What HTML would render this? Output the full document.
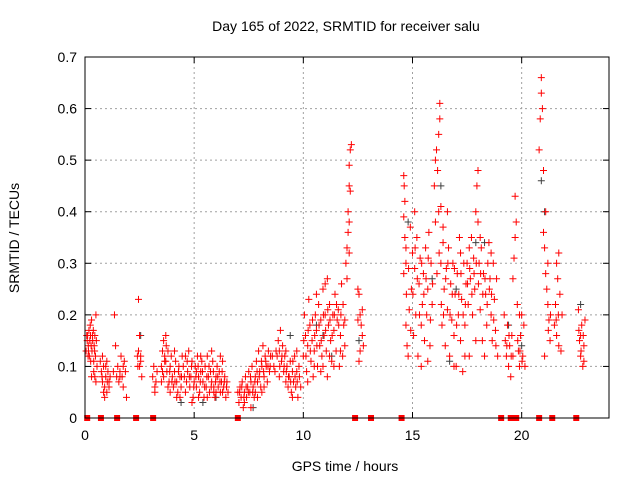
<!DOCTYPE html>
<html><head><meta charset="utf-8"><style>
body{margin:0;background:#fff}
svg{display:block;font-family:"Liberation Sans",sans-serif}
</style></head><body>
<svg id="chart" width="640" height="480">
<text x="346" y="31" font-size="14" text-anchor="middle">Day 165 of 2022, SRMTID for receiver salu</text>
<text x="345" y="471" font-size="14" text-anchor="middle">GPS time / hours</text>
<text transform="translate(19,238) rotate(-90)" font-size="14" text-anchor="middle">SRMTID / TECUs</text>
<g id="grid"></g><g id="gray"></g><g id="red"></g><g id="sq"></g>
<rect x="85" y="57" width="524" height="361" fill="none" stroke="#000" stroke-width="1"/>
</svg>
<script>
const xTicks=[0,5,10,15,20];
const yTicks=[0,0.1,0.2,0.3,0.4,0.5,0.6,0.7];
const yTickLabels=["0","0.1","0.2","0.3","0.4","0.5","0.6","0.7"];
const gapHours=[0.1,0.73,1.47,2.34,3.12,7.0,12.37,13.1,14.5,19.06,19.5,19.6,19.75,20.8,21.4,22.5];
const grayPoints=[[20.9,.46],[21.05,.4],[16.3,.45],[17.9,.34],[22.7,.22],[2.55,.16],[10.6,.18],[9.4,.16],[15.9,.27],[5.4,.03],[7.7,.02],[12.55,.15],[20.0,.14],[18.3,.34],[14.8,.38],[11.3,.12],[19.4,.18],[17.0,.25],[6.0,.04],[4.4,.03],[16.7,.11],[10.9,.16]];
const redPoints=[
[.05,.13],[.1,.15],[.12,.16],[.15,.14],[.18,.17],[.2,.12],[.22,.15],[.25,.16],[.28,.14],[.3,.19],[.32,.13],[.35,.15],[.38,.17],[.4,.11],[.42,.14],[.45,.16],[.48,.12],[.5,.2],[.52,.15],[.55,.1],[.4,.09],[.45,.08],[.3,.08],[.5,.07],
[.7,.11],[.75,.09],[.8,.07],[.85,.1],[.9,.06],[.95,.08],[1.0,.05],[1.05,.09],[1.1,.07],[.8,.12],[.9,.04],[1.0,.11],[1.1,.06],[1.15,.08],[.85,.05],
[1.3,.09],[1.35,.2],[1.4,.14],[1.45,.08],[1.5,.1],[1.55,.07],[1.6,.09],[1.65,.12],[1.7,.08],[1.75,.06],[1.8,.11],[1.85,.09],[1.9,.04],
[2.4,.12],[2.45,.23],[2.5,.1],[2.5,.16],[2.55,.11],[2.6,.08],[2.45,.13],[2.55,.12],
[3.1,.08],[3.15,.1],[3.2,.06],[3.25,.07],[3.3,.09],[3.2,.05],
[3.5,.1],[3.55,.13],[3.6,.15],[3.65,.12],[3.7,.16],[3.7,.11],[3.75,.09],[3.8,.13],[3.85,.07],[3.9,.1],[3.95,.12],[4.0,.08],[4.05,.06],[4.1,.09],[4.15,.11],[4.2,.07],[4.25,.05],[4.3,.1],[4.35,.08],[4.4,.06],[4.45,.12],[3.6,.08],[3.9,.05],[4.2,.04],[3.5,.07],[3.8,.06],[4.1,.13],[4.35,.04],
[4.5,.1],[4.6,.12],[4.65,.07],[4.7,.09],[4.75,.13],[4.8,.06],[4.85,.08],[4.9,.11],[4.95,.04],[5.0,.07],[5.05,.1],[5.1,.06],[5.15,.12],[5.2,.08],[5.25,.05],[5.3,.09],[5.35,.11],[5.4,.07],[5.45,.04],[5.5,.1],[5.55,.06],[5.6,.12],[5.65,.08],[5.7,.05],[5.75,.09],[5.8,.07],[5.85,.11],[5.9,.06],[5.95,.04],[6.0,.08],[6.05,.1],[6.1,.06],[6.15,.09],[6.2,.05],[6.25,.07],[6.3,.11],[6.35,.06],[6.4,.08],[6.45,.04],[6.5,.07],[4.6,.05],[4.9,.03],[5.3,.12],[5.8,.13],[6.2,.12],[5.1,.09],[5.6,.04],[6.0,.05],
[7.0,.05],[7.05,.03],[7.1,.06],[7.15,.04],[7.2,.07],[7.25,.02],[7.3,.05],[7.35,.08],[7.4,.04],[7.45,.06],[7.5,.09],[7.55,.05],[7.6,.07],[7.65,.1],[7.7,.06],[7.75,.04],[7.8,.08],[7.85,.11],[7.9,.07],[7.95,.13],[8.0,.09],[8.05,.06],[8.1,.1],[8.15,.14],[8.2,.08],[8.25,.12],[8.3,.1],[8.35,.07],[8.4,.13],[8.45,.09],[8.5,.12],[7.3,.03],[7.6,.02],[7.9,.04],[8.1,.05],[7.8,.05],[8.2,.06],
[8.7,.09],[8.8,.12],[8.85,.15],[8.9,.13],[8.95,.17],[9.0,.11],[9.05,.14],[9.1,.09],[9.15,.12],[9.2,.07],[9.25,.1],[9.3,.06],[9.35,.08],[9.4,.11],[9.45,.05],[9.5,.09],[9.55,.07],[9.6,.12],[9.65,.06],[9.7,.09],[9.75,.04],[9.8,.1],[8.9,.08],[9.2,.13],[9.5,.04],[9.7,.13],
[10.0,.12],[10.05,.2],[10.1,.16],[10.15,.09],[10.2,.14],[10.25,.23],[10.3,.18],[10.35,.11],[10.4,.15],[10.45,.08],[10.5,.13],[10.55,.2],[10.6,.17],[10.65,.1],[10.7,.22],[10.75,.14],[10.8,.19],[10.85,.12],[10.9,.25],[10.95,.16],[11.0,.2],[11.05,.13],[11.1,.27],[11.15,.18],[11.2,.22],[11.25,.15],[11.3,.11],[11.35,.2],[11.4,.17],[11.45,.24],[11.5,.13],[11.55,.19],[11.6,.21],[11.65,.1],[11.7,.16],[11.75,.26],[11.8,.12],[11.85,.18],[10.2,.07],[10.5,.1],[10.8,.09],[11.1,.08],[11.4,.1],[11.7,.13],[10.6,.24],[11.0,.26],
[11.95,.3],[12.0,.33],[12.05,.36],[12.1,.32],[12.05,.4],[12.1,.45],[12.15,.44],[12.1,.49],[12.15,.52],[12.2,.53],[12.0,.27],[12.1,.38],
[12.5,.25],[12.55,.24],[12.6,.2],[12.65,.18],[12.7,.16],[12.6,.13],[12.55,.11],[12.7,.21],[12.75,.14],[12.5,.19],
[14.6,.47],[14.62,.45],[14.6,.39],[14.65,.35],[14.7,.3],[14.6,.28],[14.7,.18],[14.75,.14],[14.8,.12],[14.85,.21],[14.9,.37],[14.95,.25],[15.0,.32],[15.05,.16],[15.1,.29],[15.15,.2],[15.2,.35],[15.25,.12],[15.3,.26],[15.35,.31],[15.4,.18],[15.45,.22],[15.5,.28],[15.55,.15],[15.6,.33],[15.65,.2],[15.7,.25],[15.75,.36],[15.8,.14],[15.85,.3],[15.9,.22],[15.1,.4],[15.4,.1],[15.7,.11],[14.7,.33],
[16.0,.45],[16.05,.5],[16.1,.52],[16.15,.48],[16.2,.55],[16.25,.58],[16.25,.61],[16.3,.41],[16.2,.4],[16.05,.38],
[16.3,.3],[16.35,.18],[16.4,.34],[16.45,.25],[16.5,.14],[16.55,.29],[16.6,.21],[16.65,.33],[16.7,.12],[16.75,.26],[16.8,.19],[16.85,.3],[16.9,.16],[16.95,.24],[17.0,.1],[17.05,.28],[17.1,.2],[17.15,.35],[17.2,.15],[17.25,.23],[17.3,.09],[17.35,.3],[17.4,.18],[17.45,.26],[16.4,.37],[16.6,.4],[16.9,.1],[17.2,.32],[17.4,.12],
[17.5,.3],[17.55,.22],[17.6,.33],[17.65,.27],[17.7,.35],[17.75,.2],[17.8,.31],[17.85,.25],[17.9,.4],[17.95,.45],[18.0,.48],[18.0,.38],[18.05,.3],[18.1,.21],[18.15,.33],[18.2,.15],[18.25,.28],[18.3,.12],[18.35,.24],[18.4,.18],[18.45,.3],[17.6,.12],[17.9,.15],[18.1,.35],
[18.5,.34],[18.55,.27],[18.6,.2],[18.65,.15],[18.7,.3],[18.75,.23],[18.8,.17],[18.85,.27],[18.9,.12],[18.6,.32],
[19.2,.2],[19.25,.15],[19.3,.12],[19.35,.18],[19.4,.1],[19.45,.14],[19.5,.08],[19.55,.16],[19.6,.27],[19.65,.31],[19.7,.35],[19.7,.43],[19.75,.38],[19.8,.22],[19.85,.13],[19.9,.1],[19.95,.16],[20.0,.2],[20.05,.12],[20.1,.18],[20.15,.1],[19.6,.12],[19.9,.2],
[20.8,.52],[20.85,.58],[20.9,.63],[20.9,.66],[20.95,.6],[21.0,.48],[21.0,.36],[21.05,.33],[21.1,.4],[21.1,.28],[21.15,.25],[21.2,.22],[21.25,.19],[21.3,.15],[21.05,.12],[21.2,.3],
[21.5,.18],[21.55,.22],[21.6,.16],[21.65,.27],[21.7,.32],[21.75,.24],[21.8,.13],[21.85,.2],[21.7,.14],[21.6,.3],
[22.6,.21],[22.65,.15],[22.7,.12],[22.75,.18],[22.8,.1],[22.85,.14],[22.9,.19],[22.7,.16],[22.85,.11]
];
const redExtra=[
[.08,.16],[.16,.13],[.24,.18],[.34,.16],[.44,.13],[.14,.12],[.26,.11],[.95,.1],[1.02,.07],[.78,.08],[1.6,.08],[1.75,.1],[2.42,.1],
[3.55,.09],[3.65,.11],[3.72,.14],[3.88,.09],[3.98,.07],[4.12,.07],[4.28,.09],[4.42,.08],[4.55,.08],[4.68,.11],[4.78,.08],[4.88,.1],[4.98,.06],[5.08,.08],[5.18,.1],[5.28,.07],[5.38,.09],[5.48,.06],[5.58,.08],[5.68,.1],[5.78,.06],[5.88,.09],[5.98,.07],[6.08,.08],[6.18,.07],[6.28,.09],[6.38,.07],[6.48,.06],[6.55,.05],[5.2,.04],[5.9,.05],[6.3,.05],
[7.08,.05],[7.18,.06],[7.28,.04],[7.38,.06],[7.48,.05],[7.58,.08],[7.68,.05],[7.78,.07],[7.88,.09],[7.98,.08],[8.08,.11],[8.18,.09],[8.28,.11],[8.38,.1],[8.48,.1],[8.58,.12],[8.65,.1],[8.75,.13],[8.92,.1],[9.02,.12],[9.12,.1],[9.22,.09],[9.32,.08],[9.42,.07],[9.52,.11],[9.62,.08],[9.72,.07],[9.82,.08],[9.88,.06],
[10.02,.15],[10.12,.12],[10.22,.17],[10.32,.13],[10.42,.19],[10.52,.16],[10.62,.14],[10.72,.18],[10.82,.15],[10.92,.2],[11.02,.17],[11.12,.21],[11.22,.19],[11.32,.16],[11.42,.2],[11.52,.22],[11.62,.18],[11.72,.2],[11.82,.22],[11.9,.19],[11.9,.14],[11.2,.12],[10.9,.1],
[14.65,.42],[14.72,.24],[14.82,.29],[14.92,.17],[15.02,.24],[15.12,.33],[15.22,.27],[15.32,.2],[15.42,.3],[15.52,.24],[15.62,.27],[15.72,.31],[15.82,.19],[15.92,.26],[16.12,.28],[16.22,.32],[16.32,.22],[16.42,.2],[16.52,.27],[16.62,.3],[16.72,.2],[16.82,.24],[16.92,.29],[17.02,.18],[17.12,.24],[17.22,.28],[17.32,.2],[17.42,.22],[17.52,.26],[17.62,.29],[17.72,.24],[17.82,.28],[17.92,.3],[18.02,.26],[18.12,.28],[18.22,.24],[18.32,.27],[18.42,.22],[18.52,.25],[18.62,.24],[18.72,.19],[18.82,.14],[19.32,.14],[19.42,.16],[19.52,.12],[19.82,.15],[19.92,.13],[20.02,.11],[21.22,.17],[21.32,.2],[21.58,.19],[21.68,.2],[22.62,.17],[22.72,.13],[22.82,.16]
];
const X0=85,X1=609,Y0=418,Y1=57,XMAX=24,YMAX=0.7;
function xs(t){return X0+(X1-X0)*t/XMAX;}
function ys(v){return Y0-(Y0-Y1)*v/YMAX;}
const NS="http://www.w3.org/2000/svg";
function mk(tag,parent,attrs){const e=document.createElementNS(NS,tag);for(const k in attrs)e.setAttribute(k,attrs[k]);parent.appendChild(e);return e;}
const grid=document.getElementById('grid');
xTicks.forEach(t=>{
  const x=xs(t);
  if(t>0){const g=mk('line',grid,{x1:x,x2:x,y1:Y1,y2:Y0,stroke:'#a0a0a0','stroke-dasharray':'2,3'});
  
  }
  mk('line',grid,{x1:x,x2:x,y1:Y0,y2:Y0-6,stroke:'#000'});
  mk('line',grid,{x1:x,x2:x,y1:Y1,y2:Y1+6,stroke:'#000'});
  const l=mk('text',grid,{x:x,y:Y0+22,'font-size':14,'text-anchor':'middle'});l.textContent=t;
  
  
});
yTicks.forEach((v,i)=>{
  const y=ys(v);
  if(v>0&&v<YMAX){const g=mk('line',grid,{x1:X0,x2:X1,y1:y,y2:y,stroke:'#a0a0a0','stroke-dasharray':'2,3'});
  
  }
  mk('line',grid,{x1:X0,x2:X0+6,y1:y,y2:y,stroke:'#000'});
  mk('line',grid,{x1:X1,x2:X1-6,y1:y,y2:y,stroke:'#000'});
  const l=mk('text',grid,{x:X0-8,y:y+5,'font-size':14,'text-anchor':'end'});l.textContent=yTickLabels[i];
  
  
});
function plus(parent,t,v,col){
  const x=xs(t),y=ys(v);
  return mk('path',parent,{d:`M${x-3.5},${y}h7M${x},${y-3.5}v7`,stroke:col,'stroke-width':1,fill:'none'});
}
const gg=document.getElementById('gray');
grayPoints.forEach(([t,v])=>{const p=plus(gg,t,v,'#404040');
  
  });
const rg=document.getElementById('red');
redPoints.concat(redExtra).forEach(([t,v])=>{const p=plus(rg,t,v,'#ff0000');
  
  });
const sq=document.getElementById('sq');
gapHours.forEach(t=>{const r=mk('rect',sq,{x:xs(t)-3,y:Y0-3,width:6,height:6,fill:'#ff0000'});
  
  });
</script>
</body></html>
